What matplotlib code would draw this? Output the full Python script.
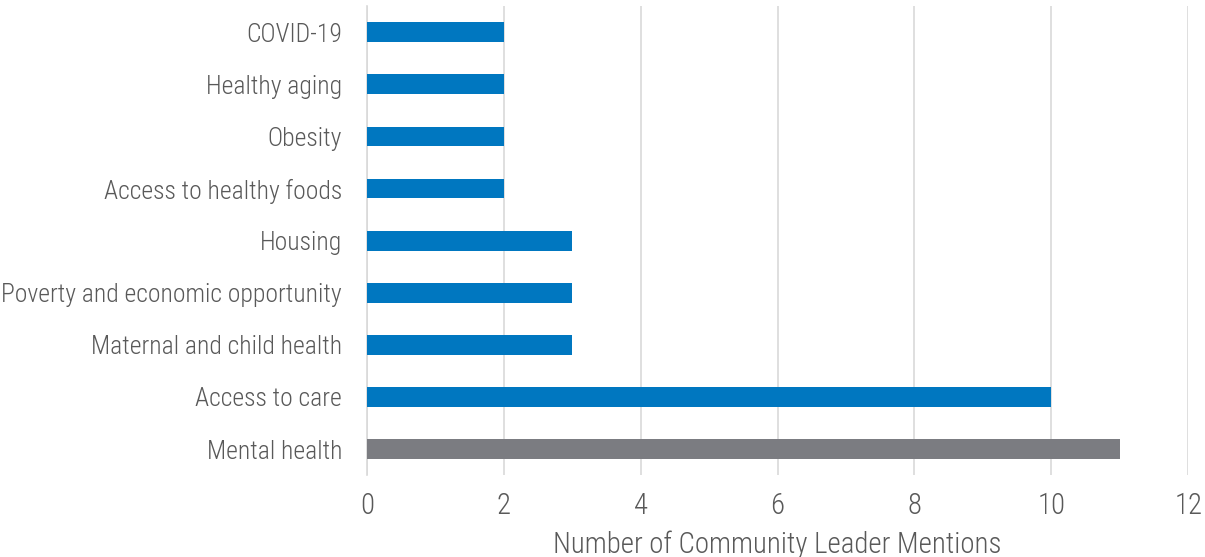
import matplotlib.pyplot as plt
from matplotlib import font_manager
from matplotlib.textpath import TextPath
from matplotlib.font_manager import FontProperties

categories = ['Mental health', 'Access to care', 'Maternal and child health',
              'Poverty and economic opportunity', 'Housing', 'Access to healthy foods',
              'Obesity', 'Healthy aging', 'COVID-19']
mentions = [11, 10, 3, 3, 3, 2, 2, 2, 2]
bar_colors = ['#7b7c81'] + ['#0077c0'] * 8
x_label = 'Number of Community Leader Mentions'

names = {f.name for f in font_manager.fontManager.ttflist}
family = 'DejaVu Sans'
for cand in ['Liberation Sans Narrow', 'Roboto Condensed', 'Open Sans Condensed',
             'Arial Narrow', 'Liberation Sans']:
    if cand in names:
        family = cand
        break
plt.rcParams['font.family'] = family
plt.rcParams['font.weight'] = 'light'
plt.rcParams['axes.labelweight'] = 'light'


def fit_size(text, width_px):
    # size in points so that the text is about width_px wide at 100 dpi
    prop = FontProperties(family=family, weight='light')
    w = TextPath((0, 0), text, size=10, prop=prop).get_extents().width
    return 10 * (width_px * 0.72) / w


label_size = fit_size('Poverty and economic opportunity', 338)
xlabel_size = fit_size(x_label, 445)

text_color = '#595959'

fig = plt.figure(figsize=(12.05, 5.57), dpi=100)
ax = fig.add_axes([0.3046, 0.147, 0.6814, 0.842])

y = list(range(len(categories)))
ax.barh(y, mentions, height=0.38, color=bar_colors, zorder=3)

ax.set_xlim(0, 12)
ax.set_ylim(-0.5, len(categories) - 0.5)
ax.set_xticks(range(0, 13, 2))
ax.set_yticks(y)
ax.set_yticklabels(categories)
ax.tick_params(axis='both', length=0, labelsize=label_size, colors=text_color)
ax.tick_params(axis='x', pad=12, labelsize=label_size * 1.12)
ax.tick_params(axis='y', pad=18)

ax.grid(axis='x', color='#d9d9d9', linewidth=1.2, zorder=0)
for s in ['top', 'right', 'bottom']:
    ax.spines[s].set_visible(False)
ax.spines['left'].set_color('#d9d9d9')
ax.spines['left'].set_linewidth(1.2)

ax.set_xlabel(x_label, fontsize=xlabel_size, fontweight='light', color=text_color, labelpad=8)

fig.savefig('out.png', dpi=100)
